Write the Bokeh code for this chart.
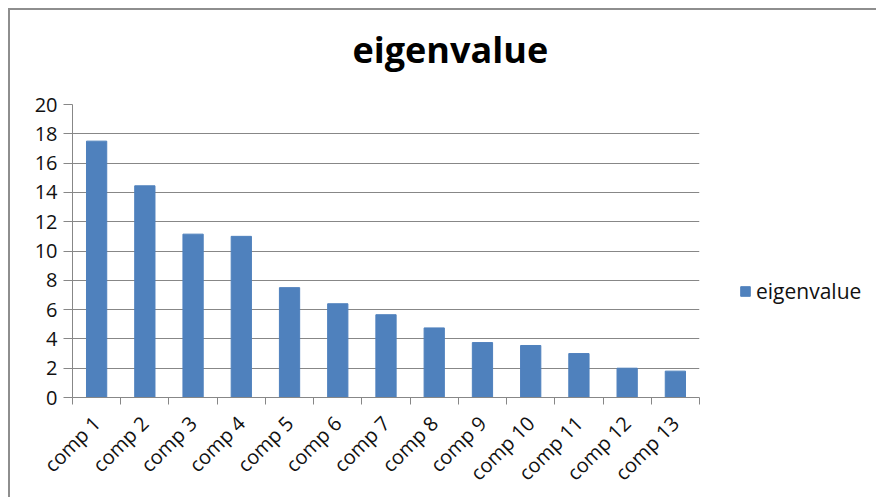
from math import pi
from bokeh.plotting import figure
from bokeh.models import FixedTicker, Legend, LegendItem, Range1d, Title
from bokeh.embed import file_html
from bokeh.resources import INLINE

# ---- data ----
categories = ["comp 1", "comp 2", "comp 3", "comp 4", "comp 5", "comp 6", "comp 7",
              "comp 8", "comp 9", "comp 10", "comp 11", "comp 12", "comp 13"]
eigenvalues = [17.5, 14.45, 11.15, 11.0, 7.5, 6.4, 5.65, 4.75, 3.75, 3.55, 3.0, 2.0, 1.8]
y_ticks = [0, 2, 4, 6, 8, 10, 12, 14, 16, 18, 20]
series_name = "eigenvalue"
title_text = "eigenvalue"

FONT = "Open Sans"
GRAY = "#878787"
BAR = "#4F81BD"

n = len(categories)
centers = [i + 0.5 for i in range(n)]
bounds = list(range(n + 1))

p = figure(frame_width=627, frame_height=293, output_backend="svg", toolbar_location=None,
           x_range=Range1d(0, n), y_range=Range1d(y_ticks[0], y_ticks[-1]),
           min_border_left=62, min_border_right=169, min_border_top=93,
           min_border_bottom=92)
p.styles = {"border-left": "2px solid #8e8e8e", "border-top": "2px solid #8e8e8e",
            "margin-left": "8px", "margin-top": "8px"}
p.outline_line_color = None
p.background_fill_color = "white"
p.border_fill_color = "white"

r = p.vbar(x=centers, top=eigenvalues, width=0.42, fill_color=BAR, line_color=BAR)

# y axis
p.yaxis.ticker = FixedTicker(ticks=y_ticks)
p.yaxis.axis_line_color = GRAY
p.yaxis.major_tick_line_color = GRAY
p.yaxis.major_tick_out = 9
p.yaxis.major_tick_in = 0
p.yaxis.minor_tick_line_color = None
p.yaxis.major_label_standoff = 6
p.yaxis.major_label_text_font = FONT
p.yaxis.major_label_text_font_size = "20px"
p.yaxis.major_label_text_color = "#111111"

# x axis
p.xaxis.ticker = FixedTicker(ticks=centers, minor_ticks=bounds)
p.xaxis.major_label_overrides = {c: name for c, name in zip(centers, categories)}
p.xaxis.axis_line_color = GRAY
p.xaxis.major_tick_line_color = None
p.xaxis.major_tick_out = 0
p.xaxis.major_tick_in = 0
p.xaxis.minor_tick_line_color = GRAY
p.xaxis.minor_tick_out = 7
p.xaxis.minor_tick_in = 0
p.xaxis.major_label_orientation = pi / 4
p.xaxis.major_label_standoff = 15
p.xaxis.major_label_text_font = FONT
p.xaxis.major_label_text_font_size = "20px"
p.xaxis.major_label_text_color = "#111111"

p.xgrid.grid_line_color = None
p.ygrid.grid_line_color = GRAY
p.ygrid.grid_line_width = 1

# spacer between plot area and title, then the title itself
p.add_layout(Title(text=" ", text_font=FONT, text_font_size="12px", standoff=0), "above")
p.add_layout(Title(text=title_text, align="left", offset=280, standoff=24,
                   text_font=FONT, text_font_style="bold", text_font_size="36px",
                   text_color="#000000"), "above")

# legend
legend = Legend(items=[LegendItem(label=series_name, renderers=[r])],
                location=(40, 92), padding=0, margin=0, border_line_color=None,
                background_fill_alpha=0, glyph_width=12, glyph_height=12,
                label_height=12, label_standoff=5, label_text_font=FONT,
                label_text_font_size="21px", label_text_color="#111111")
p.add_layout(legend, "right")

open("out.html", "w").write(file_html(p, INLINE))
